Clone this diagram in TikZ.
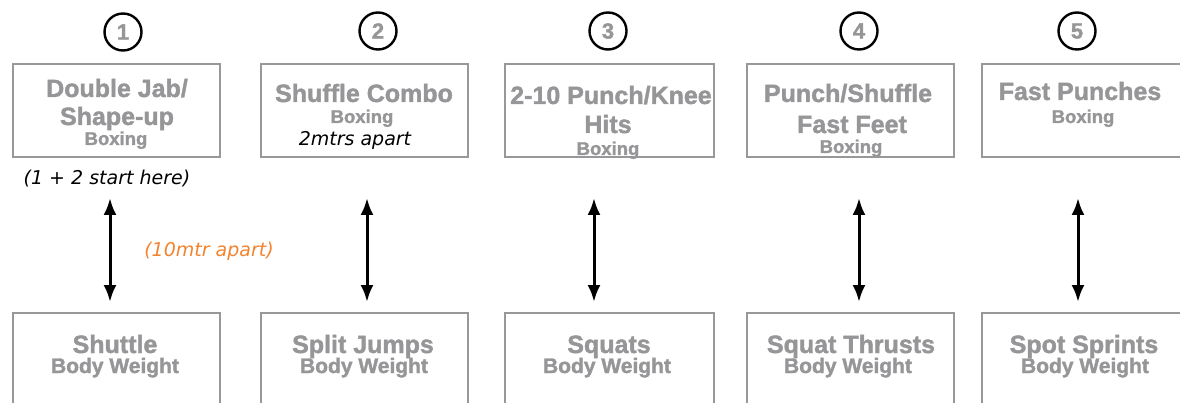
\documentclass[tikz,border=0pt]{standalone}
\usepackage{fontspec}
\setmainfont{Liberation Sans}[BoldFeatures={FakeBold=1.6}]
\newfontfamily\notefont{DejaVu Sans}
\usepackage{xcolor}
\usepackage{tikz}
\usetikzlibrary{arrows.meta}

\definecolor{boxgray}{RGB}{152,152,154}
\definecolor{txtgray}{RGB}{150,150,152}
\definecolor{noteorange}{RGB}{242,132,48}

\tikzset{
  box/.style={draw=boxgray, line width=2pt, minimum width=207pt, minimum height=93pt, inner sep=0pt},
  lowbox/.style={box, minimum height=100pt},
  title/.style={text=txtgray, font=\fontsize{25}{25}\selectfont\bfseries, anchor=base, inner sep=0pt},
  sub/.style={text=txtgray, font=\fontsize{18.5}{18.5}\selectfont\bfseries, anchor=base, inner sep=0pt},
  bwsub/.style={text=txtgray, font=\fontsize{21}{21}\selectfont\bfseries, anchor=base, inner sep=0pt},
  note/.style={font=\fontsize{19}{19}\selectfont\notefont\itshape, anchor=base, inner sep=0pt},
  num/.style={circle, draw=black, line width=2.4pt, minimum size=37pt, inner sep=0pt, text=txtgray, font=\fontsize{22}{22}\selectfont\bfseries},
  dblarrow/.style={line width=3pt, {Latex[length=17pt,width=13pt]}-{Latex[length=17pt,width=13pt]}},
}

\begin{document}
\begin{tikzpicture}[x=1pt, y=-1pt]
  \useasboundingbox (0,0) rectangle (1180,403);

  \node[num] (n1) at (123,32) {1};
  \node[num] (n2) at (378,31) {2};
  \node[num] (n3) at (608,31) {3};
  \node[num] (n4) at (859,31) {4};
  \node[num] (n5) at (1077,31) {5};

  \node[box] (b1) at (116.5,110.5) {};
  \node[box] (b2) at (364.5,110.5) {};
  \node[box, minimum width=209pt] (b3) at (609.5,110.5) {};
  \node[box] (b4) at (850.5,110.5) {};
  \node[box] (b5) at (1085.5,110.5) {};

  \node[title] (t1a) at (117,97) {Double Jab/};
  \node[title] (t1b) at (117,125) {Shape-up};
  \node[sub] (s1) at (116,145) {Boxing};
  \node[title] (t2) at (364,102) {Shuffle Combo};
  \node[sub] (s2) at (362,123) {Boxing};
  \node[note] (m2) at (355,146) {2mtrs apart};
  \node[title] (t3a) at (611,104) {2-10 Punch/Knee};
  \node[title] (t3b) at (608,133) {Hits};
  \node[sub] (s3) at (608,155) {Boxing};
  \node[title] (t4a) at (848,102) {Punch/Shuffle};
  \node[title] (t4b) at (852,133) {Fast Feet};
  \node[sub] (s4) at (851,153) {Boxing};
  \node[title] (t5) at (1080,100) {Fast Punches};
  \node[sub] (s5) at (1083,123) {Boxing};

  \node[note] (start) at (107,185) {(1 + 2 start here)};
  \node[note, text=noteorange] (dist) at (209,257) {(10mtr apart)};

  \node[lowbox] (w1) at (116.5,363) {};
  \node[lowbox] (w2) at (364.5,363) {};
  \node[lowbox, minimum width=209pt] (w3) at (609.5,363) {};
  \node[lowbox] (w4) at (850.5,363) {};
  \node[lowbox] (w5) at (1085.5,363) {};

  \node[title] (u1) at (115,353) {Shuttle};
  \node[bwsub] (v1) at (115,373) {Body Weight};
  \node[title] (u2) at (363,353) {Split Jumps};
  \node[bwsub] (v2) at (364,373) {Body Weight};
  \node[title] (u3) at (609,353) {Squats};
  \node[bwsub] (v3) at (607,373) {Body Weight};
  \node[title] (u4) at (851,353) {Squat Thrusts};
  \node[bwsub] (v4) at (848,373) {Body Weight};
  \node[title] (u5) at (1084,353) {Spot Sprints};
  \node[bwsub] (v5) at (1085,373) {Body Weight};

  \coordinate (a1) at (110,198);  \coordinate (c1) at (110,302);
  \coordinate (a2) at (367,198);  \coordinate (c2) at (367,302);
  \coordinate (a3) at (594,198);  \coordinate (c3) at (594,302);
  \coordinate (a4) at (859,198);  \coordinate (c4) at (859,302);
  \coordinate (a5) at (1078,198); \coordinate (c5) at (1078,302);
  \draw[dblarrow] (a1) -- (c1);
  \draw[dblarrow] (a2) -- (c2);
  \draw[dblarrow] (a3) -- (c3);
  \draw[dblarrow] (a4) -- (c4);
  \draw[dblarrow] (a5) -- (c5);
\end{tikzpicture}
\end{document}
